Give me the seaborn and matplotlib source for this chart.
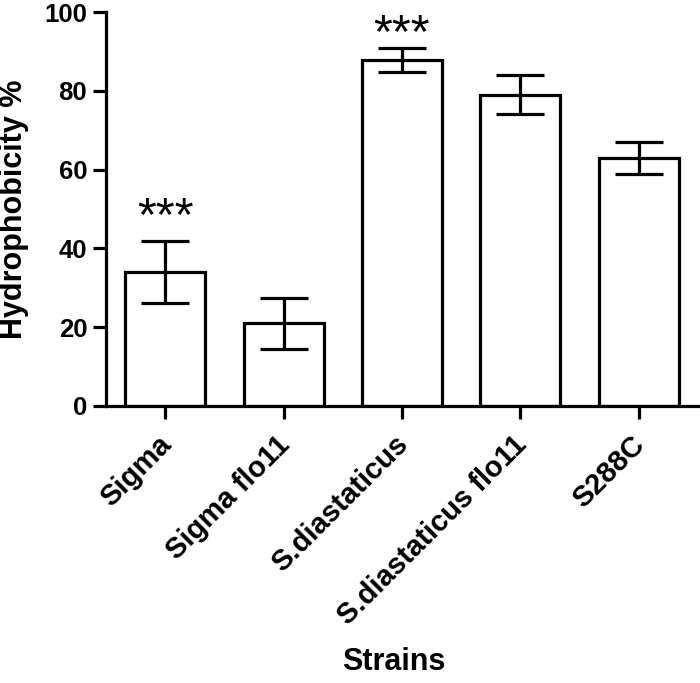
import matplotlib
matplotlib.use("Agg")
import matplotlib.pyplot as plt
import matplotlib.transforms as mtransforms
import seaborn as sns
import pandas as pd
import numpy as np

strains = ["Sigma", "Sigma flo11", "S.diastaticus", "S.diastaticus flo11", "S288C"]
hydrophobicity = [34.0, 21.0, 87.8, 79.0, 62.9]
sem = [7.8, 6.5, 3.1, 4.9, 4.0]
significance = ["***", "", "***", "", ""]
y_ticks = [0, 20, 40, 60, 80, 100]

sns.set_theme(style="ticks")
plt.rcParams['font.family'] = ['Liberation Sans', 'DejaVu Sans']
plt.rcParams['text.color'] = 'black'
plt.rcParams['axes.labelcolor'] = 'black'

df = pd.DataFrame({"Strains": strains, "Hydrophobicity": hydrophobicity})

fig = plt.figure(figsize=(7.0, 6.83), dpi=100)
ax = fig.add_axes([0.1514, 0.4056, 0.997 - 0.1514, 0.9824 - 0.4056])

lw = 2.3
sns.barplot(data=df, x="Strains", y="Hydrophobicity", order=strains,
            color="white", edgecolor="black", linewidth=lw, width=0.675,
            errorbar=None, ax=ax, zorder=2)
for p in ax.patches:
    p.set_facecolor("white")
    p.set_edgecolor("black")
    p.set_linewidth(lw)

xpos = np.arange(len(strains))
ax.errorbar(xpos, hydrophobicity, yerr=sem, fmt="none", ecolor="black",
            elinewidth=lw, capsize=17, capthick=lw, zorder=3)

# significance marks (placed just above error bars, kept inside the frame)
for x, y, e, s in zip(xpos, hydrophobicity, sem, significance):
    if s:
        base = min(y + e + 0.3, 88.5)
        ax.text(x, base, s, ha="center", va="bottom", fontsize=35,
                color="black", clip_on=False)

ax.set_xlim(-0.5, 4.5)
ax.set_ylim(0, 100)
ax.set_yticks(y_ticks)
ax.set_yticklabels([str(t) for t in y_ticks], fontsize=18.5, fontweight="bold")
ax.set_xticks(xpos)
ax.set_xticklabels([""] * len(strains))

# rotated category labels, anchored at their tick
lab_tr = ax.get_xaxis_transform() + mtransforms.ScaledTranslation(
    -5.8 / 72, -17.6 / 72, fig.dpi_scale_trans)
for x, name in zip(xpos, strains):
    ax.text(x, 0, name, transform=lab_tr, rotation=45, ha="right", va="top",
            rotation_mode="anchor", fontsize=21, fontweight="bold",
            color="black", clip_on=False)

for side in ["top", "right"]:
    ax.spines[side].set_visible(False)
for side in ["left", "bottom"]:
    ax.spines[side].set_linewidth(lw)
    ax.spines[side].set_color("black")
ax.tick_params(axis="y", length=9.5, width=lw, pad=4, colors="black")
ax.tick_params(axis="x", length=9, width=lw, pad=10, colors="black")

ax.set_ylabel("Hydrophobicity %", fontsize=22, fontweight="bold", color="black")
ax.set_xlabel("Strains", fontsize=22, fontweight="bold", color="black")
ax.xaxis.set_label_coords(0.486, -0.612)
ax.yaxis.set_label_coords(-0.155, 0.5)
ax.xaxis.label.set_va("top")
ax.yaxis.label.set_va("center")

fig.savefig("out.png", dpi=100, facecolor="white")
